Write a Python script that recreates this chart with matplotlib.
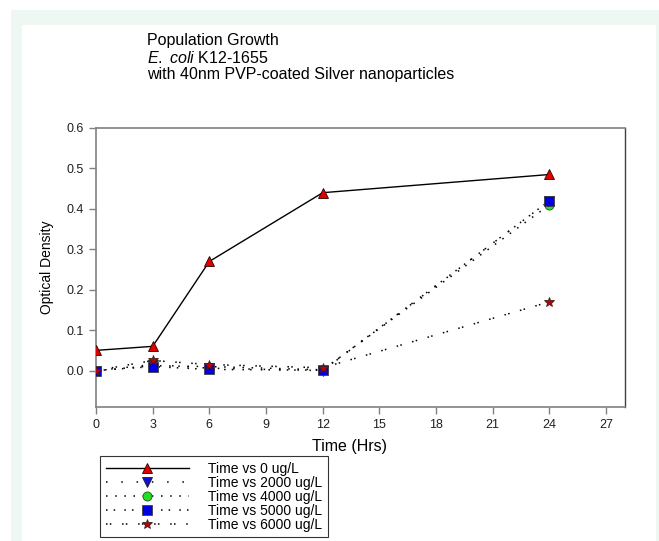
import matplotlib
matplotlib.use('Agg')
import matplotlib.pyplot as plt
from matplotlib.patches import Rectangle

plt.rcParams['font.family'] = ['Liberation Sans', 'DejaVu Sans']
plt.rcParams['mathtext.fontset'] = 'custom'
plt.rcParams['mathtext.it'] = 'Liberation Sans:italic'
plt.rcParams['mathtext.rm'] = 'Liberation Sans'

# data
hours = [0, 3, 6, 12, 24]
od_0 = [0.05, 0.06, 0.27, 0.44, 0.485]
od_2000 = [0.0, 0.015, 0.006, 0.0, 0.42]
od_4000 = [0.0, 0.012, 0.01, 0.002, 0.41]
od_5000 = [0.0, 0.01, 0.003, 0.001, 0.42]
od_6000 = [0.0, 0.025, 0.015, 0.007, 0.17]
labels = ['Time vs 0 ug/L', 'Time vs 2000 ug/L', 'Time vs 4000 ug/L',
          'Time vs 5000 ug/L', 'Time vs 6000 ug/L']

fig = plt.figure(figsize=(6.59, 5.41), dpi=100)
fig.patch.set_facecolor('white')
# mint frame with white panel
fig.patches.append(Rectangle((11 / 659, 0), 1, 1 - 10 / 541, transform=fig.transFigure,
                             facecolor='#eef7f2', edgecolor='none', zorder=-2))
fig.patches.append(Rectangle((22 / 659, 0), (656 - 22) / 659, 1 - 25 / 541,
                             transform=fig.transFigure, facecolor='white',
                             edgecolor='none', zorder=-1))

ax = fig.add_axes([96 / 659, 1 - 407 / 541, (625 - 96) / 659, (407 - 128) / 541])

ax.plot(hours, od_0, color='black', lw=1, marker='^', ms=6.5,
        mfc='#e00000', mec='#300000', mew=0.6, label=labels[0], zorder=5)
ax.plot(hours, od_2000, color='black', lw=1.1, ls=(0, (1, 9)), marker='v', ms=6.5,
        mfc='#1010d0', mec='#202020', mew=0.6, label=labels[1], zorder=4)
ax.plot(hours, od_4000, color='black', lw=1.1, ls=(0, (1, 5)), marker='o', ms=6.5,
        mfc='#20e020', mec='#205020', mew=0.6, label=labels[2], zorder=3)
ax.plot(hours, od_5000, color='black', lw=1.1, ls=(0, (1, 4, 1, 6)), marker='s', ms=6.5,
        mfc='#0000e0', mec='#404040', mew=0.6, label=labels[3], zorder=4)
ax.plot(hours, od_6000, color='black', lw=1.1, ls=(0, (1, 1.5, 1, 7)), marker='*', ms=7.5,
        mfc='#c00000', mec='#402020', mew=0.6, label=labels[4], zorder=5)

ax.set_xlim(0, 28)
ax.set_ylim(-0.09, 0.6)
ax.set_xticks(range(0, 28, 3))
ax.set_yticks([0.0, 0.1, 0.2, 0.3, 0.4, 0.5, 0.6])
ax.set_yticklabels(['0.0', '0.1', '0.2', '0.3', '0.4', '0.5', '0.6'])
ax.tick_params(axis='both', labelsize=9, color='#808080', length=5, width=1,
               labelcolor='#202020', pad=4)
for side in ['left', 'bottom', 'top']:
    ax.spines[side].set_color('#808080')
    ax.spines[side].set_linewidth(1.2)
ax.spines['right'].set_color('#404040')
ax.spines['right'].set_linewidth(1)

ax.set_xlabel('Time (Hrs)', fontsize=11.5, labelpad=8)
ax.xaxis.set_label_coords((350 - 96) / (625 - 96), -0.115)
ax.set_ylabel('Optical Density', fontsize=10, labelpad=9)

fig.text(147 / 659, 1 - 41 / 541, 'Population Growth', fontsize=11.5, va='center')
fig.text(147 / 659, 1 - 58 / 541, r'$\mathit{E.\ coli}$ K12-1655', fontsize=11.5, va='center')
fig.text(147 / 659, 1 - 75 / 541, 'with 40nm PVP-coated Silver nanoparticles',
         fontsize=11.5, va='center')

leg = fig.legend(loc='upper left', bbox_to_anchor=(100 / 659, 1 - 456 / 541),
                 borderaxespad=0, fontsize=10, handlelength=6.0, frameon=True,
                 fancybox=False, edgecolor='black', borderpad=0.4, labelspacing=0.0,
                 handletextpad=1.4)
leg.get_frame().set_linewidth(0.8)

fig.savefig('out.png', dpi=100)
